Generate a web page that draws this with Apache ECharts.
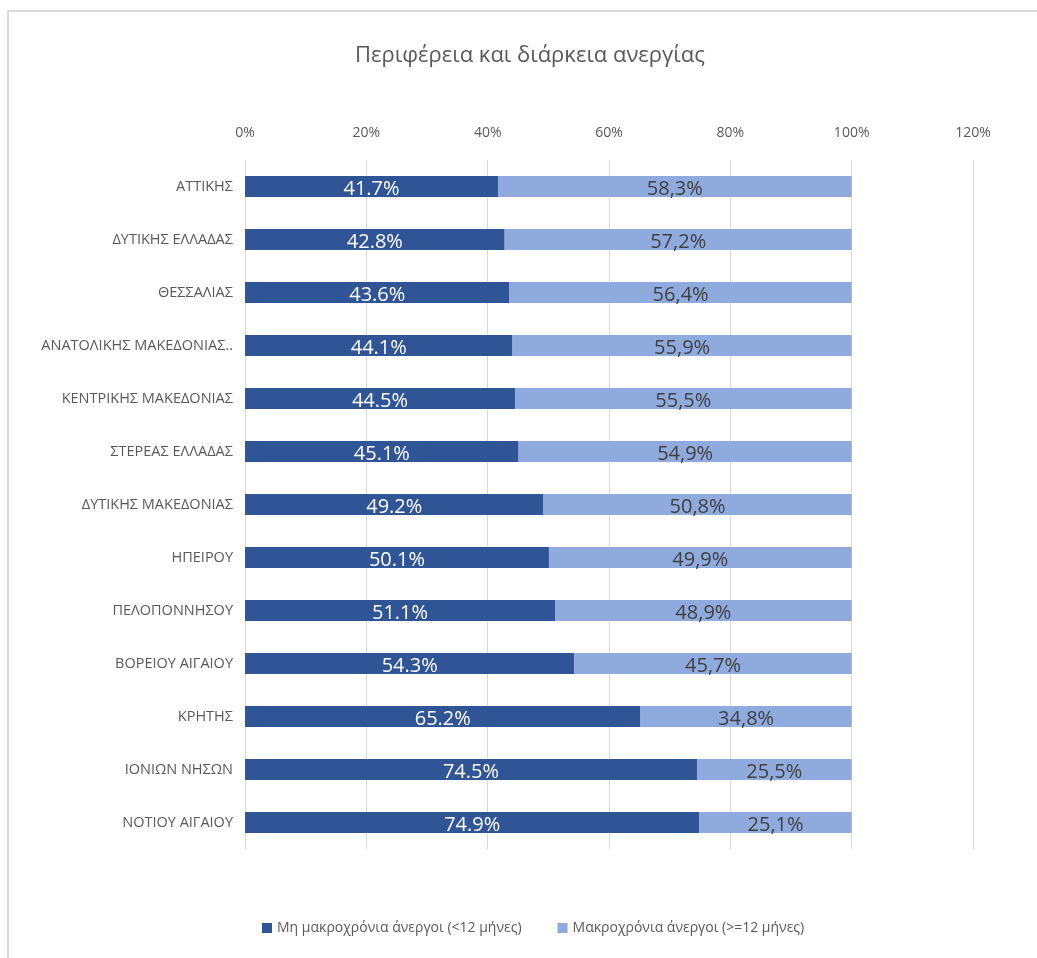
<!DOCTYPE html>
<html><head><meta charset="utf-8">
<script src="https://cdn.jsdelivr.net/npm/echarts@6/dist/echarts.min.js"></script>
<style>html,body{margin:0;padding:0;background:#fff}#c{width:1037px;height:958px}</style>
</head><body><div id="c"></div>
<script>
const categories = ["ΑΤΤΙΚΗΣ","ΔΥΤΙΚΗΣ ΕΛΛΑΔΑΣ","ΘΕΣΣΑΛΙΑΣ","ΑΝΑΤΟΛΙΚΗΣ ΜΑΚΕΔΟΝΙΑΣ..","ΚΕΝΤΡΙΚΗΣ ΜΑΚΕΔΟΝΙΑΣ","ΣΤΕΡΕΑΣ ΕΛΛΑΔΑΣ","ΔΥΤΙΚΗΣ ΜΑΚΕΔΟΝΙΑΣ","ΗΠΕΙΡΟΥ","ΠΕΛΟΠΟΝΝΗΣΟΥ","ΒΟΡΕΙΟΥ ΑΙΓΑΙΟΥ","ΚΡΗΤΗΣ","ΙΟΝΙΩΝ ΝΗΣΩΝ","ΝΟΤΙΟΥ ΑΙΓΑΙΟΥ"];
const shortTerm = [41.7,42.8,43.6,44.1,44.5,45.1,49.2,50.1,51.1,54.3,65.2,74.5,74.9];
const longTerm = [58.3,57.2,56.4,55.9,55.5,54.9,50.8,49.9,48.9,45.7,34.8,25.5,25.1];
const seriesNames = ["Μη μακροχρόνια άνεργοι (<12 μήνες)","Μακροχρόνια άνεργοι (>=12 μήνες)"];
const title = "Περιφέρεια και διάρκεια ανεργίας";

const FONT = "'Open Sans',sans-serif";
const chart = echarts.init(document.getElementById('c'), null, {renderer:'canvas'});
chart.setOption({
  backgroundColor:'#fff',
  animation:false,
  graphic:[{type:'rect',shape:{x:8,y:11,width:1100,height:1000},style:{fill:'none',stroke:'#d9d9d9',lineWidth:2},silent:true,z:-1}],
  title:{text:title,left:350,top:40,textStyle:{fontFamily:FONT,fontSize:22,fontWeight:'normal',color:'#595959'}},
  legend:{bottom:18,left:257,itemWidth:10,itemHeight:10,itemGap:36,icon:'rect',
    textStyle:{fontFamily:FONT,fontSize:14,color:'#595959'}},
  grid:{left:245,right:64,top:160,bottom:109,containLabel:false},
  xAxis:{type:'value',position:'top',min:0,max:120,interval:20,
    axisLabel:{formatter:'{value}%',fontFamily:FONT,fontSize:14,color:'#595959',margin:20},
    axisLine:{show:false},axisTick:{show:false},
    splitLine:{show:true,lineStyle:{color:'#d9d9d9',width:1}}},
  yAxis:{type:'category',data:categories,inverse:true,
    axisLine:{show:false},axisTick:{show:false},
    axisLabel:{fontFamily:FONT,fontSize:14.5,color:'#595959',margin:12}},
  series:[
    {name:seriesNames[0],type:'bar',stack:'a',data:shortTerm,barWidth:21,
      itemStyle:{color:'#2F5597'},
      label:{show:true,position:'inside',offset:[0,3],fontFamily:FONT,fontSize:20,color:'#ffffff',
        formatter:p=>p.value.toFixed(1)+'%'}},
    {name:seriesNames[1],type:'bar',stack:'a',data:longTerm,barWidth:21,
      itemStyle:{color:'#8FAADC'},
      label:{show:true,position:'inside',offset:[0,3],fontFamily:FONT,fontSize:20,color:'#404040',
        formatter:p=>p.value.toFixed(1).replace('.',',')+'%'}}
  ]
});
</script></body></html>
